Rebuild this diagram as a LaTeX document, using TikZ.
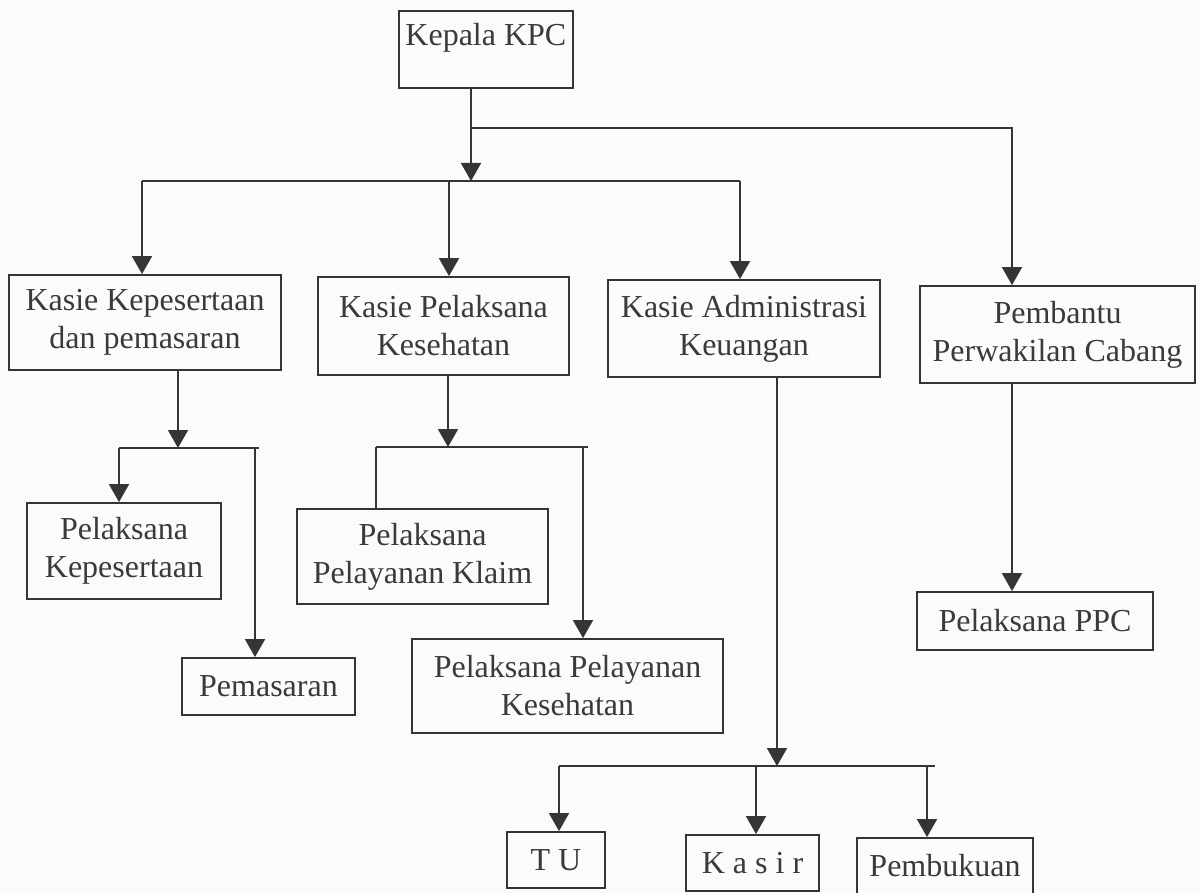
\documentclass[tikz,border=0pt]{standalone}
\usepackage{fontspec}
\setmainfont{Liberation Serif}
\usetikzlibrary{arrows.meta}
\definecolor{ink}{HTML}{353535}
\definecolor{txt}{HTML}{3A3A3A}
\definecolor{paper}{HTML}{FBFBF9}
\begin{document}
\begin{tikzpicture}[x=1pt,y=-1pt,
  box/.style={draw=ink, line width=1.8pt, inner sep=0pt, align=center, text=txt,
              font=\fontsize{32}{38}\selectfont},
  ln/.style={draw=ink, line width=1.8pt},
  arr/.style={ln, -{Triangle[width=20pt,length=18pt]}}]
\useasboundingbox (0,0) rectangle (1200,893);
\fill[paper] (0,0) rectangle (1200,893);
\clip (0,0) rectangle (1200,893);

% nodes
\node[box, minimum width=174pt, text height=35pt, text depth=42pt, anchor=north west] (kepala) at (398,10) {Kepala KPC};
\node[box, minimum width=272pt, minimum height=95pt] (kk) at (145,322.5) {Kasie Kepesertaan\\dan pemasaran};
\node[box, minimum width=251pt, minimum height=98pt] (kp) at (443.5,326) {Kasie Pelaksana\\Kesehatan};
\node[box, minimum width=272pt, minimum height=97pt] (ka) at (744,328.5) {Kasie Administrasi\\Keuangan};
\node[box, minimum width=275pt, minimum height=97pt] (pb) at (1057.5,334.5) {Pembantu\\Perwakilan Cabang};
\node[box, minimum width=194pt, minimum height=96pt] (pk) at (124,551) {Pelaksana\\Kepesertaan};
\node[box, minimum width=173pt, minimum height=57pt] (pm) at (268.5,686.5) {Pemasaran};
\node[box, minimum width=251pt, minimum height=95pt] (pkl) at (422.5,556.5) {Pelaksana\\Pelayanan Klaim};
\node[box, minimum width=311pt, minimum height=94pt] (pks) at (567.5,686) {Pelaksana Pelayanan\\Kesehatan};
\node[box, minimum width=236pt, minimum height=58pt] (ppc) at (1035,621) {Pelaksana PPC};
\node[box, minimum width=98pt, minimum height=56pt] (tu) at (556,860) {T U};
\node[box, minimum width=133pt, minimum height=56pt] (ks) at (752.5,863) {K a s i r};
\node[box, minimum width=176pt, minimum height=56pt] (pbk) at (945,866) {Pembukuan};

% junction coordinates
\coordinate (kv) at (471,181);
\coordinate (kbr) at (471,128);
\coordinate (kbe) at (1012,128);
\coordinate (b1l) at (142,181);
\coordinate (b1m) at (449,181);
\coordinate (b1r) at (740,181);
\coordinate (kkj) at (178,448);
\coordinate (kkl) at (119,448);
\coordinate (kkr) at (255,448);
\coordinate (kke) at (259,448);
\coordinate (kpj) at (448,447);
\coordinate (kpl) at (376,447);
\coordinate (kpr) at (583,447);
\coordinate (kpe) at (588,447);
\coordinate (kaj) at (777,766);
\coordinate (kal) at (559,766);
\coordinate (kam) at (756,766);
\coordinate (kar) at (927,766);
\coordinate (kae) at (935,766);
\coordinate (pbx) at (1012,383);

% connectors
\draw[arr] (kepala.south -| kv) -- (kv);
\draw[arr] (kbr) -- (kbe) -- (kbe |- pb.north);
\draw[ln] (b1l) -- (b1r);
\draw[arr] (b1l) -- (b1l |- kk.north);
\draw[arr] (b1m) -- (b1m |- kp.north);
\draw[arr] (b1r) -- (b1r |- ka.north);

\draw[arr] (kk.south -| kkj) -- (kkj);
\draw[ln] (kkl) -- (kke);
\draw[arr] (kkl) -- (kkl |- pk.north);
\draw[arr] (kkr) -- (kkr |- pm.north);

\draw[arr] (kp.south -| kpj) -- (kpj);
\draw[ln] (kpl) -- (kpe);
\draw[ln] (kpl) -- (kpl |- pkl.north);
\draw[arr] (kpr) -- (kpr |- pks.north);

\draw[arr] (ka.south -| kaj) -- (kaj);
\draw[ln] (kal) -- (kae);
\draw[arr] (kal) -- (kal |- tu.north);
\draw[arr] (kam) -- (kam |- ks.north);
\draw[arr] (kar) -- (kar |- pbk.north);

\draw[arr] (pb.south -| pbx) -- (pbx |- ppc.north);
\end{tikzpicture}
\end{document}
